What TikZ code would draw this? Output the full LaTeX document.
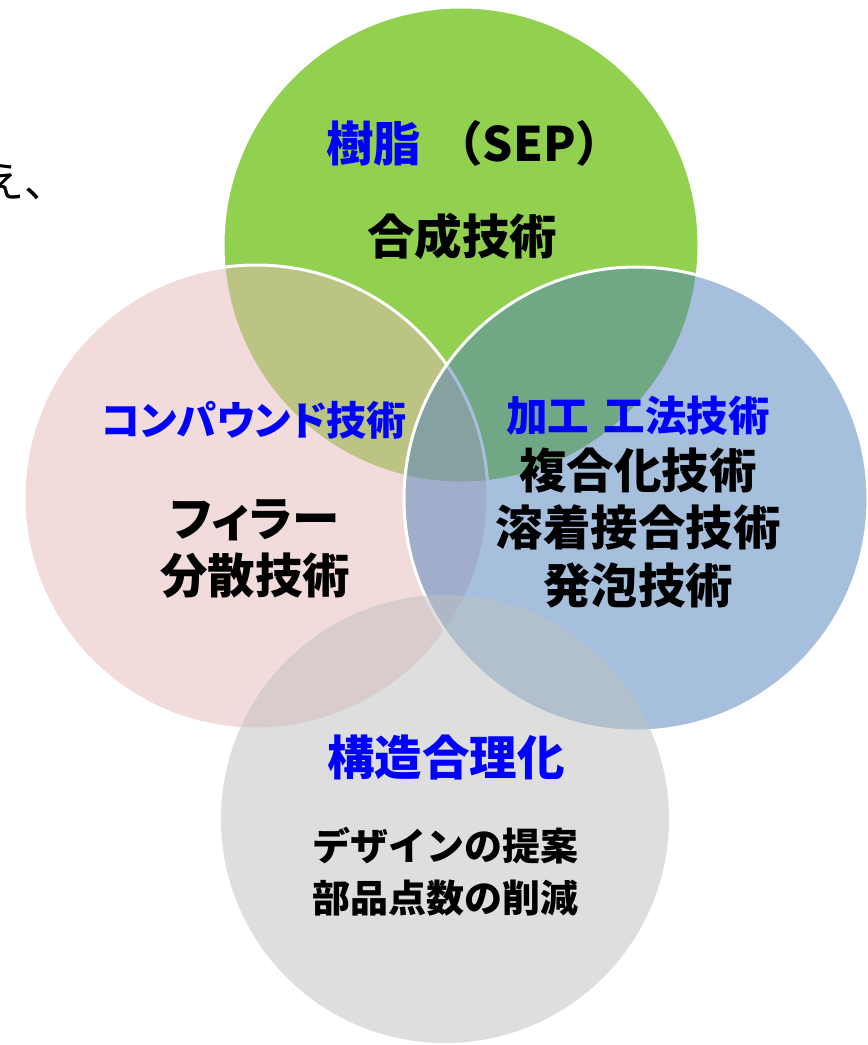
\documentclass[tikz,border=0pt]{standalone}
\usepackage{fontspec}
\setmainfont{Noto Sans CJK JP}
\newfontfamily\jpp{Noto Sans CJK JP}[RawFeature=+palt]
\definecolor{cgreen}{HTML}{92D050}
\definecolor{cpink}{HTML}{E6B9B8}
\definecolor{cblue}{HTML}{4F81BD}
\definecolor{cgray}{HTML}{BFBFBF}
\definecolor{hblue}{HTML}{0000FF}
\tikzset{
  bubble/.style={circle, inner sep=0pt, outer sep=0pt, draw=white, line width=3pt},
  half/.style={fill opacity=0.5},
  lbl/.style={inner sep=0pt, align=center, font=\bfseries},
  big/.style={lbl, font=\bfseries\fontsize{47.5}{57.5}\selectfont},
  mid/.style={lbl, font=\bfseries\fontsize{40}{52}\selectfont},
  small/.style={lbl, font=\bfseries\fontsize{38}{52}\selectfont}
}
\begin{document}
\begin{tikzpicture}[x=1pt,y=-1pt]
\useasboundingbox (0,0) rectangle (868,1045);
\fill[white] (0,0) rectangle (868,1045);
\begin{scope}
\clip (0,0) rectangle (868,1045);
\node[bubble, fill=cgreen, minimum size=476pt] (green) at (461,245) {};
\node[bubble, half, fill=cpink, minimum size=464pt] (pink) at (256,497) {};
\node[bubble, half, fill=cblue, minimum size=464pt] (blue) at (636,499) {};
\node[bubble, half, draw=none, fill=cgray, minimum size=448pt] (gray) at (445,819) {};
\node[inner sep=0pt, anchor=east, font=\fontsize{43}{45}\selectfont] (edge) at (68,182) {え、};
\end{scope}
% green
\node[big, anchor=west, text=hblue] (g1) at (326,143) {樹脂\hspace{0.3em}\textcolor{black}{（SEP）}};
\node[big] (g2) at (462,236) {合成技術};
% pink
\node[mid, text=hblue] (p1) at (254,420) {\jpp コンパウンド技術};
\node[big] (p2) at (255,549) {{\jpp フィラー}\\分散技術};
% blue
\node[mid, text=hblue, font=\bfseries\fontsize{41.5}{52}\selectfont] (b1) at (638,416) {加工\hspace{0.35em}工法技術};
\node[big] (b2) at (638,528) {複合化技術\\溶着接合技術\\発泡技術};
% gray
\node[big, text=hblue] (r1) at (446,757) {構造合理化};
\node[small] (r2) at (445,872) {デザインの提案\\部品点数の削減};
\end{tikzpicture}
\end{document}
